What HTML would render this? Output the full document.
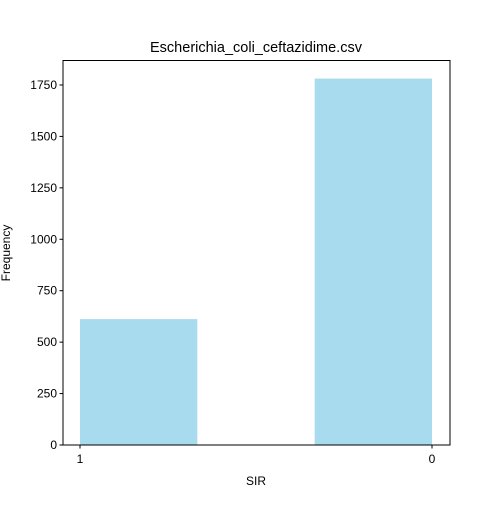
<!DOCTYPE html>
<html><head><meta charset="utf-8"><style>
body{margin:0;background:#fff;}
svg text{font-family:"Liberation Sans","DejaVu Sans",sans-serif;fill:#000;}
</style></head><body>
<svg id="chart" width="500" height="500">
<text x="256" y="52" font-size="14.5" text-anchor="middle">Escherichia_coli_ceftazidime.csv</text>
<g id="bars"></g>
<g id="axes"></g>
<text x="256" y="485" font-size="12" text-anchor="middle">SIR</text>
<text transform="translate(10,253) rotate(-90)" font-size="12" text-anchor="middle">Frequency</text>
</svg>
<script>
const binStarts=[2/3,0];
const binEnds=[1,1/3];
const counts=[612,1781];
const yTicks=[0,250,500,750,1000,1250,1500,1750];
const xTickVals=[1,0];
const xTickLabels=["1","0"];
const L=63,R=450,T=60.5,B=445;
const yMax=1869;
function x(v){return 80+(1-v)*352;}
function y(v){return B-v/yMax*(B-T);}
const ns="http://www.w3.org/2000/svg";
const bars=document.getElementById('bars'),axes=document.getElementById('axes');
function mk(t,a,p){const e=document.createElementNS(ns,t);for(const k in a)e.setAttribute(k,a[k]);p.appendChild(e);return e;}
counts.forEach((c,i)=>{
 const x1=x(binEnds[i]),x2=x(binStarts[i]);
 const r=mk('rect',{x:Math.min(x1,x2),y:y(c),width:Math.abs(x2-x1),height:B-y(c),fill:'#a9dbee'},bars);
 
 
});
const ax=mk('path',{d:`M${L} ${T}H${R}V${B}H${L}Z`,fill:'none',stroke:'#000','stroke-width':1},axes);


yTicks.forEach(v=>{
 const yy=y(v);
 mk('line',{x1:L-3.5,x2:L,y1:yy,y2:yy,stroke:'#000'},axes);
 const t=mk('text',{x:L-6,y:yy+4,'font-size':12,'text-anchor':'end'},axes);
 t.textContent=v;
 
 
});
xTickVals.forEach((v,i)=>{
 const xx=x(v);
 mk('line',{x1:xx,x2:xx,y1:B,y2:B+3.5,stroke:'#000'},axes);
 const t=mk('text',{x:xx,y:B+18,'font-size':12,'text-anchor':'middle'},axes);
 t.textContent=xTickLabels[i];
 
 
});
</script>
</body></html>
